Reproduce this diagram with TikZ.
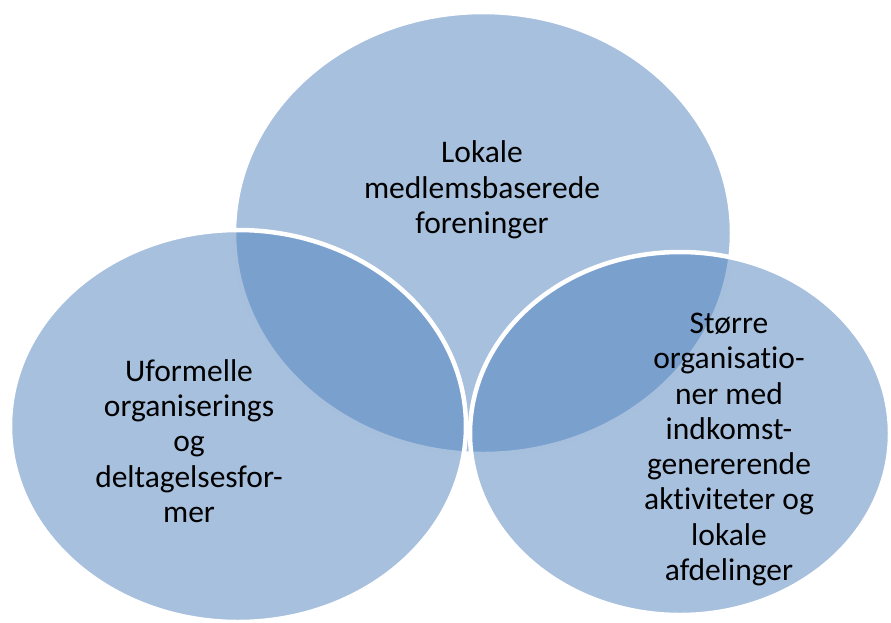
\documentclass[tikz,border=0pt]{standalone}
\usepackage{fontspec}
\setmainfont{Carlito}[Ligatures=NoCommon]
\usetikzlibrary{shapes.geometric}
\definecolor{accentblue}{RGB}{79,129,189}
\begin{document}
\begin{tikzpicture}[x=1pt,y=-1pt,
  venn/.style={ellipse, fill=accentblue, fill opacity=0.5, draw=white, line width=4.5pt, inner sep=0pt},
  lbl/.style={align=center, font=\fontsize{31.5}{35.3}\selectfont, text=black, inner sep=0pt}]
\useasboundingbox (0,0) rectangle (891,622);
\node[venn, minimum width=498pt, minimum height=442pt] (topE) at (483,233) {};
\node[venn, minimum width=456pt, minimum height=392pt] (leftE) at (238,426) {};
\node[venn, minimum width=420pt, minimum height=363pt] (rightE) at (680,433.5) {};
\node[lbl] (topT) at (482,190) {Lokale\\medlemsbaserede\\foreninger};
\node[lbl] (leftT) at (189,441) {Uformelle\\organiserings\\og\\deltagelsesfor-\\mer};
\node[lbl] (rightT) at (729,449.5) {Større\\organisatio-\\ner med\\indkomst-\\genererende\\aktiviteter og\\lokale\\afdelinger};
\end{tikzpicture}
\end{document}
